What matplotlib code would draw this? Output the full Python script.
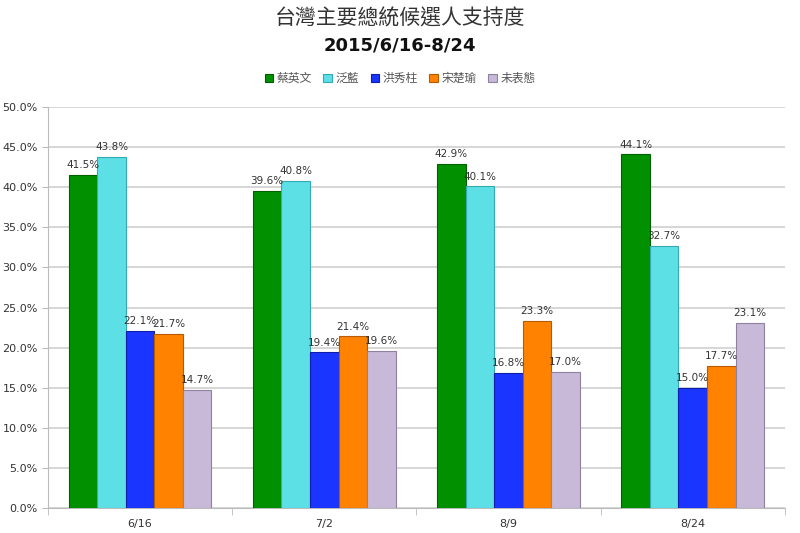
import matplotlib
matplotlib.use("Agg")
import matplotlib.pyplot as plt
import numpy as np

plt.rcParams['font.family'] = ['Noto Sans CJK TC', 'DejaVu Sans']

dates = ['6/16', '7/2', '8/9', '8/24']
names = ['蔡英文', '泛藍', '洪秀柱', '宋楚瑜', '未表態']
tsai = [41.5, 39.6, 42.9, 44.1]
blue_camp = [43.8, 40.8, 40.1, 32.7]
hung = [22.1, 19.4, 16.8, 15.0]
soong = [21.7, 21.4, 23.3, 17.7]
undecided = [14.7, 19.6, 17.0, 23.1]
series = [tsai, blue_camp, hung, soong, undecided]
colors = ['#009000', '#5ce0e6', '#1a35ff', '#ff8200', '#c8b9d9']
edges = ['#006000', '#35a9b0', '#0d1fa8', '#b85a00', '#8f81a0']

fig = plt.figure(figsize=(8, 5.33), dpi=100)
ax = fig.add_axes([0.06, 0.047, 0.921, 0.752])

x = np.arange(len(dates))
w = 0.155
for i, (vals, c, ec, nm) in enumerate(zip(series, colors, edges, names)):
    pos = x + (i - 2) * w
    ax.bar(pos, vals, width=w, color=c, edgecolor=ec, linewidth=0.8, label=nm, zorder=3)
    for p, v in zip(pos, vals):
        ax.text(p, v + 0.6, f'{v:.1f}%', ha='center', va='bottom', fontsize=7.5,
                color='#333333', family='DejaVu Sans', zorder=4)

ax.set_xlim(-0.5, len(dates) - 0.5)
ax.set_ylim(0, 50)
ax.set_yticks(np.arange(0, 50.1, 5))
ax.set_yticklabels([f'{v:.1f}%' for v in np.arange(0, 50.1, 5)], family='DejaVu Sans')
ax.set_xticks(x)
ax.set_xticklabels(dates, family='DejaVu Sans')
ax.set_xticks(np.arange(-0.5, len(dates), 1), minor=True)
ax.tick_params(axis='x', which='major', length=0, pad=8, labelsize=8, colors='#333333')
ax.tick_params(axis='x', which='minor', length=5, color='#bbbbbb')
ax.tick_params(axis='y', length=4, color='#bbbbbb', labelsize=8, colors='#333333')
ax.yaxis.grid(True, color='#d0d0d0', linewidth=1.2, zorder=0)
for s in ['top', 'right']:
    ax.spines[s].set_visible(False)
ax.spines['left'].set_color('#bbbbbb')
ax.spines['bottom'].set_color('#bbbbbb')

fig.text(0.5, 0.965, '台灣主要總統候選人支持度', ha='center', va='center', fontsize=15, color='#333333')
fig.text(0.5, 0.915, '2015/6/16-8/24', ha='center', va='center', fontsize=13, fontweight='bold',
         family='DejaVu Sans', color='#111111')
fig.legend(loc='center', bbox_to_anchor=(0.5, 0.853), ncol=5, frameon=False, fontsize=8.5,
           handlelength=0.7, handleheight=0.7, handletextpad=0.3, columnspacing=1.0,
           labelcolor='#555555')

fig.savefig('out.png', dpi=100)
